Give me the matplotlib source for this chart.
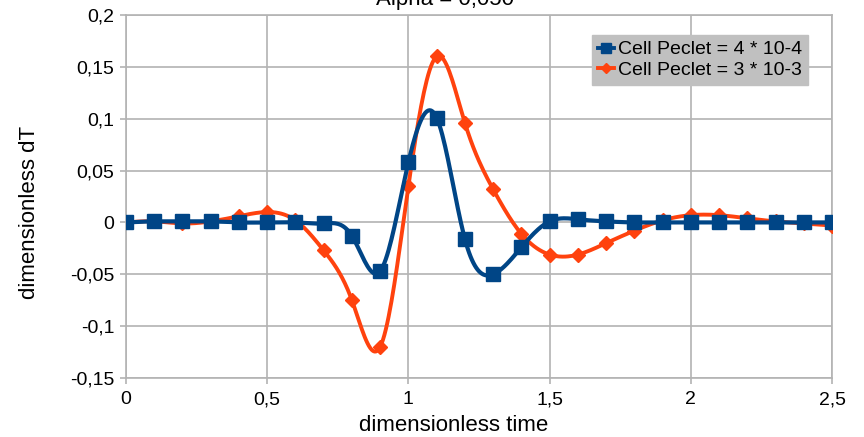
import numpy as np
import matplotlib
matplotlib.use("Agg")
import matplotlib.pyplot as plt
from matplotlib.ticker import FuncFormatter

plt.rcParams['font.family'] = ['Liberation Sans', 'DejaVu Sans']

time = [0.0, 0.1, 0.2, 0.3, 0.4, 0.5, 0.6, 0.7, 0.8, 0.9, 1.0, 1.1, 1.2,
        1.3, 1.4, 1.5, 1.6, 1.7, 1.8, 1.9, 2.0, 2.1, 2.2, 2.3, 2.4, 2.5]
pe_low = [0.0, 0.001, 0.001, 0.001, 0.0, 0.0, 0.0, -0.001, -0.013, -0.047,
          0.058, 0.101, -0.016, -0.050, -0.024, 0.001, 0.003, 0.001, 0.0,
          0.0, 0.0, 0.0, 0.0, 0.0, 0.0, 0.0]
pe_high = [0.0, 0.001, -0.001, 0.001, 0.006, 0.010, 0.002, -0.027, -0.075,
           -0.120, 0.035, 0.160, 0.096, 0.032, -0.011, -0.031, -0.031,
           -0.020, -0.008, 0.002, 0.007, 0.007, 0.004, 0.001, -0.001, -0.003]
labels = ['Cell Peclet = 4 * 10-4', 'Cell Peclet = 3 * 10-3']
title = 'Alpha = 0,050'
xlabel = 'dimensionless time'
ylabel = 'dimensionless dT'


def natural_spline(x, y, n=20):
    x = np.asarray(x, float)
    y = np.asarray(y, float)
    m = len(x)
    h = np.diff(x)
    A = np.zeros((m, m))
    b = np.zeros(m)
    A[0, 0] = 1
    A[-1, -1] = 1
    for i in range(1, m - 1):
        A[i, i - 1] = h[i - 1]
        A[i, i] = 2 * (h[i - 1] + h[i])
        A[i, i + 1] = h[i]
        b[i] = 3 * ((y[i + 1] - y[i]) / h[i] - (y[i] - y[i - 1]) / h[i - 1])
    c = np.linalg.solve(A, b)
    xs, ys = [], []
    for i in range(m - 1):
        bb = (y[i + 1] - y[i]) / h[i] - h[i] * (2 * c[i] + c[i + 1]) / 3
        d = (c[i + 1] - c[i]) / (3 * h[i])
        t = np.linspace(0, h[i], n, endpoint=(i == m - 2))
        xs.append(x[i] + t)
        ys.append(y[i] + bb * t + c[i] * t ** 2 + d * t ** 3)
    return np.concatenate(xs), np.concatenate(ys)


blue = '#004586'
orange = '#ff420e'
grid = '#b3b3b3'

fig = plt.figure(figsize=(8.64, 4.37), dpi=100)
ax = fig.add_axes([126 / 864, 1 - 378 / 437, (832 - 126) / 864, (378 - 15) / 437])

sx, sy = natural_spline(time, pe_high)
ax.plot(sx, sy, color=orange, lw=2.8, zorder=3)
ax.plot(time, pe_high, ls='none', marker='D', ms=7.5, color=orange, zorder=4)

sx, sy = natural_spline(time, pe_low)
ax.plot(sx, sy, color=blue, lw=3.0, zorder=5)
ax.plot(time, pe_low, ls='none', marker='s', ms=10, color=blue, zorder=6)

# legend proxies
h1, = ax.plot([], [], color=blue, lw=2.8, marker='s', ms=7)
h2, = ax.plot([], [], color=orange, lw=2.8, marker='D', ms=5.5)
leg = ax.legend([h1, h2], labels, loc='upper left',
                bbox_to_anchor=(592 / 864, 1 - 35 / 437),
                bbox_transform=fig.transFigure, frameon=True, fancybox=False,
                facecolor='#c0c0c0', edgecolor='#c0c0c0', framealpha=1,
                fontsize=14, handlelength=0.85, handletextpad=0.2,
                borderpad=0.3, labelspacing=0.15, borderaxespad=0)
leg.set_zorder(10)

ax.set_xlim(0, 2.5)
ax.set_ylim(-0.15, 0.2)
ax.set_xticks([0, 0.5, 1, 1.5, 2, 2.5])
ax.set_yticks([-0.15, -0.1, -0.05, 0, 0.05, 0.1, 0.15, 0.2])


def fmt(v, pos):
    s = ('%.2f' % v).rstrip('0').rstrip('.')
    if s in ('-0', ''):
        s = '0'
    return s.replace('.', ',')


ax.xaxis.set_major_formatter(FuncFormatter(fmt))
ax.yaxis.set_major_formatter(FuncFormatter(fmt))
ax.tick_params(labelsize=14, length=4.5, width=1.2, direction='out',
               color=grid, labelcolor='black')
ax.tick_params(axis='x', pad=5)
ax.tick_params(axis='y', pad=4)
ax.grid(True, color=grid, lw=1.2)
ax.set_axisbelow(True)
for s in ax.spines.values():
    s.set_color(grid)
    s.set_linewidth(1.2)

fig.text(454 / 864, 1 - 431 / 437, xlabel, ha='center', va='baseline', fontsize=16)
fig.text(35 / 864, 1 - 212 / 437, ylabel, ha='center', va='baseline',
         rotation=90, rotation_mode='anchor', fontsize=16)
fig.text(445 / 864, 1 - 5 / 437, title, ha='center', va='baseline', fontsize=16)

fig.savefig('out.png', dpi=100)
